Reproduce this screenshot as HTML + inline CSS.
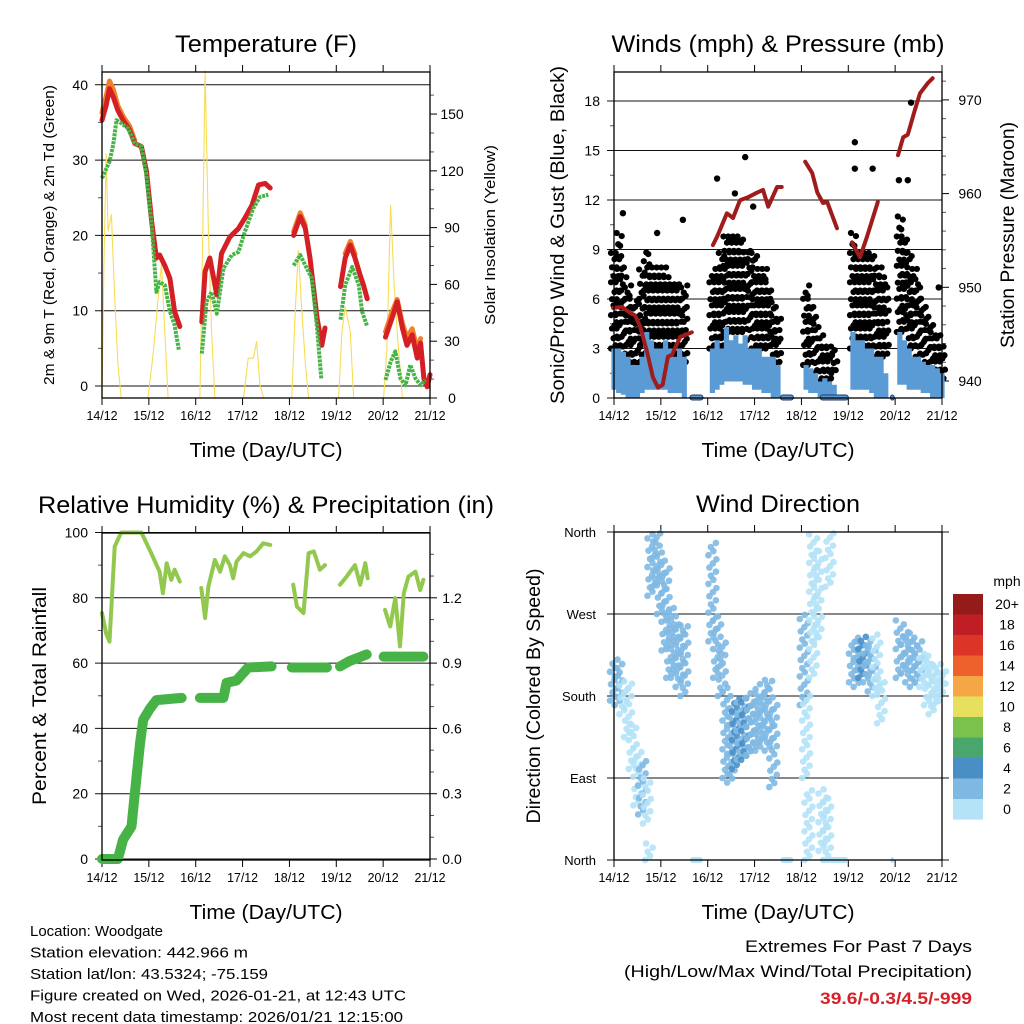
<!DOCTYPE html>
<html><head><meta charset="utf-8"><style>
html,body{margin:0;padding:0;background:#fff}
svg{display:block;font-family:"Liberation Sans",sans-serif}
</style></head><body>
<svg id="c" width="1024" height="1024" viewBox="0 0 1024 1024" xmlns="http://www.w3.org/2000/svg"></svg>
<script>
// ---------- DATA ----------
const dayLabels=["14/12","15/12","16/12","17/12","18/12","19/12","20/12","21/12"];
const tRedT=[0,.09,.16,.24,.34,.45,.59,.7,.84,.95,1.06,1.16,1.23,1.34,1.45,1.55,1.66,null,2.13,2.2,2.3,2.45,2.55,2.73,2.91,3.05,3.2,3.34,3.48,3.59,null,4.09,4.23,4.34,4.44,4.59,4.69,4.76,null,5.09,5.19,5.3,5.4,5.51,5.58,5.66,null,6.05,6.19,6.3,6.41,6.51,6.62,6.73,6.8,6.87,6.94,7];
const tRedV=[35.3,37.3,39.5,38.4,36.6,35.3,34,32.2,31.8,28.5,21.8,17,17.4,16,14.3,9.9,7.9,null,8.5,15.2,17,12.1,17.6,19.8,20.9,22.3,24,26.7,26.9,26.3,null,20,22.5,20.9,17,9,5.4,7.7,null,13.2,17,18.7,17,14.7,13.4,11.6,null,6.5,9,11.2,7.7,5.4,6.8,3.7,5.7,1,-0.1,1.5];
const tOrT=[0,.09,.16,.24,.34,.45,.59,.7,null,4.09,4.23,4.34,null,5.19,5.3,5.4,null,6.05,6.19,6.3,6.41,6.51,6.62,6.73,6.8];
const tOrV=[36.3,38.5,40.5,39.4,37.2,35.8,34.5,32.6,null,20.5,23,21.3,null,17.6,19.2,17.5,null,7.2,9.8,11.5,8.3,6.4,7.6,4.8,6.3];
const tdT=[0,.16,.24,.31,.41,.56,.7,.84,.95,1.06,1.16,1.23,1.34,1.45,1.55,1.64,null,2.13,2.23,2.34,2.45,2.59,2.77,2.91,3.05,3.23,3.37,3.55,null,4.09,4.23,4.34,4.48,4.59,4.68,null,5.09,5.19,5.34,5.48,5.55,5.66,null,6.05,6.16,6.26,6.37,6.48,6.58,6.69,6.8,6.9];
const tdV=[27.6,29.8,32,35.3,34.9,34.2,32.2,31.8,28,21.4,12.5,13.8,13.4,9.9,8.1,4.8,null,4.3,11.2,12.5,9.6,15.6,17.4,17.8,20.5,23.6,25.1,25.4,null,16,17.4,16,14.3,7.7,1,null,8.8,13.4,15.8,13.4,9.9,7.9,null,0.8,3.2,4.6,1,0.1,2.8,1,0.1,0.8];
const solT=[0,.04,.09,.13,.2,.27,.34,.41,null,.98,1.09,1.2,1.27,1.34,1.41,null,2.09,2.14,2.2,2.27,2.34,2.41,null,3.02,3.12,3.23,3.3,3.37,3.45,null,4.05,4.12,4.19,4.27,4.34,4.41,null,5.05,5.12,5.19,5.3,5.37,null,6.01,6.08,6.16,6.23,6.3,6.41];
const solV=[0,70,129,88,97,53,18,0,null,0,23,53,71,35,0,null,0,71,173,88,35,0,null,0,21,21,30,7,0,null,0,44,78,44,18,0,null,0,35,48,35,0,null,0,26,102,62,35,0];
const gustLo=[3,3,2.5,2,2,1.5,2,2.5,2.5,2.5,2.5,2.5,2.5,2.5,2.5,2,null,null,null,null,null,3,3,3,4,4,4,4,4,3.5,3,3,3,3,2,2,null,null,null,null,null,2,2,1.5,1,1,1,1.5,null,null,null,3,3,3,3,3,2.5,2.5,2.5,null,null,4,4,3,3,2.5,2,1.5,1,1,1];
const gustHi=[9,10,8,7,6,6,8,9,8,8,8,8,7,7,7,7,null,null,null,null,null,8,8,9,10,10,10,10,9,9,9,8,8,7,6,5,null,null,null,null,null,7,6,5,4,3.5,3.5,3,null,null,null,10,9,9,9,9,8,8,7,null,null,11,10,9,8,7,6,5,4.5,4,3.5];
const gustOutT=[.19,1.47,2.2,2.8,5.14,6.34,5.14,5.52,6.08,6.27,6.93,.92,2.58,2.97];
const gustOutV=[11.2,10.8,13.3,14.6,15.5,17.9,13.9,13.9,13.2,13.2,6.7,10,12.4,11.6];
const windLo=[.5,.3,.2,0,0,0,.3,.5,.5,.5,.5,.5,.3,.3,.3,0,null,null,null,null,null,.3,.5,.8,1,1,1,1,.8,.8,.5,.5,.3,.3,0,0,null,null,null,null,null,.5,.3,.3,0,0,0,0,null,null,null,.5,.5,.5,.5,.3,0,0,0,null,null,.8,.8,.5,.5,.5,.3,.3,0,0,0];
const windHi=[3,3,2.8,2.5,2,2,2.5,4,3.5,3,3,3.5,3,2.5,3,2.5,null,null,null,null,null,3,3.5,3,4.3,3.5,3.8,3.3,3.8,3,3,3,2.5,2.5,2.5,2,null,null,null,null,null,2,1.8,1.5,1,1.2,1,.8,null,null,null,4,3.5,3.5,3,3,2.5,2.5,1.5,null,null,4,3.5,3,2.5,2.5,2.2,2,2,1.8,1.5];
const calmStart=[1.62,3.55,4.4,5.9];
const calmEnd=[1.9,3.83,5.0,5.98];
const presT=[-0.02,.17,.34,.45,.56,.71,.83,.94,1.04,1.15,1.24,1.41,1.66,null,2.11,2.2,2.41,2.54,2.69,2.86,3.05,3.18,3.29,3.48,3.58,null,4.08,4.23,4.34,4.46,4.55,4.76,null,5.08,5.25,5.4,5.63,null,6.06,6.17,6.27,6.42,6.53,6.7,6.8];
const presV=[947.8,947.9,947.3,947,945.8,943,940.4,939.3,939.6,942.6,942.8,944.7,945.2,null,954.5,955.4,957.9,957.4,959.3,959.6,960.1,960.4,958.6,960.7,960.7,null,963.4,962.2,960.1,959,959.1,956.3,null,954.8,953.2,955.4,959.1,null,964.1,966,966.3,968.9,970.7,971.8,972.3];
const dirT=[0,.1,.2,.3,.4,.5,.6,.7,.75,.8,.9,1,1.1,1.2,1.3,1.4,1.5,2.1,2.2,2.3,2.4,2.5,2.6,2.7,2.8,2.9,3,3.1,3.2,3.3,3.4,4.05,4.1,4.15,4.25,4.35,4.45,4.55,4.6,5.1,5.2,5.3,5.4,5.5,5.6,5.7,6.1,6.2,6.3,6.4,6.5,6.6,6.7,6.8,6.9,7];
const dirLo=[175,170,160,135,100,60,50,40,0,290,300,270,230,200,200,190,180,240,200,180,90,85,100,110,110,115,120,120,130,120,80,170,90,0,200,240,10,0,300,195,190,200,195,185,180,150,200,205,195,190,195,190,170,160,170,180];
const dirHi=[220,215,200,195,150,125,110,90,20,360,360,340,320,280,270,260,260,350,270,240,190,170,180,175,180,180,190,185,200,200,170,270,180,80,360,340,80,70,360,240,245,245,240,235,250,200,265,250,250,245,240,230,225,215,215,210];
const dirSpd=[1,1,0,0,0,0,1,0,0,1,1,1,1,1,1,1,1,1,1,1,1,1,2,1,2,1,1,1,1,1,1,1,0,0,0,0,0,0,0,1,1,2,1,1,0,0,1,1,1,1,1,0,0,0,0,0];
const rhT=[0,.09,.16,.27,.41,.84,1.05,1.23,1.3,1.38,1.48,1.55,1.66,null,2.12,2.2,2.27,2.41,2.52,2.62,2.73,2.8,2.87,3.02,3.16,3.3,3.44,3.59,null,4.08,4.16,4.3,4.41,4.52,4.65,4.76,null,5.08,5.22,5.4,5.51,5.62,5.67,null,6.04,6.15,6.26,6.36,6.44,6.54,6.69,6.79,6.86];
const rhV=[75.3,69,66.6,95.7,100,100,93.7,88,81.4,90.6,85.5,88.6,85,null,83,73.8,83.5,91.6,88,92.7,90,86,91.1,93.7,92.7,94.2,96.7,96.2,null,84,77.3,75.3,93.7,94.2,88.6,90,null,84,86.5,90,84,90.6,86,null,76.3,71.2,79.9,65.1,81.4,86.5,88,82.4,85.5];
const prT=[0,.34,.45,.63,.7,.81,.88,1.02,1.16,1.7,null,2.09,2.59,2.66,2.87,3.12,3.62,null,4.05,4.8,null,5.08,5.29,5.65,null,6.01,6.86];
const prV=[0,0,.089,.15,.30,.53,.64,.69,.73,.74,null,.74,.74,.81,.82,.88,.885,null,.88,.88,null,.885,.91,.94,null,.93,.93];
const tempTicks=[0,10,20,30,40], solTicks=[0,30,60,90,120,150];
const mphTicks=[0,3,6,9,12,15,18], presTicks=[940,950,960,970];
const rhTicks=[0,20,40,60,80,100], prTicks=["0.0","0.3","0.6","0.9","1.2"];
const dirTicks=["North","East","South","West","North"];
const cbLabels=["20+","18","16","14","12","10","8","6","4","2","0"];
const cbColors=["#951b1b","#be1e24","#dc3427","#ef612c","#f5a746","#e6e05e","#7ac24b","#49a76e","#4a8ec6","#7fb9e3","#b4e2f7"];
const spdColors=["#b4e2f7","#7fb9e3","#4a8ec6"];

// ---------- DRAW ----------
const svg=document.getElementById('c');
const NS="http://www.w3.org/2000/svg";
function mk(tag,name,attrs,parent){
  const el=document.createElementNS(NS,tag);
  
  
  for(const k in attrs) el.setAttribute(k,attrs[k]);
  (parent||svg).appendChild(el);
  return el;
}
function txt(name,s,x,y,size,opts){
  opts=opts||{};
  const a={x:x,y:y,'font-size':size,fill:opts.fill||'#000','text-anchor':opts.anchor||'start'};
  if(opts.len){a.textLength=opts.len;a.lengthAdjust='spacingAndGlyphs';}
  if(opts.weight)a['font-weight']=opts.weight;
  if(opts.rot)a.transform='rotate(-90 '+x+' '+y+')';
  const t=mk('text',name,a,opts.parent);
  t.textContent=s;return t;
}
function pathFrom(ts,vs,xf,yf){
  let d='',pen=false;
  for(let i=0;i<ts.length;i++){
    if(ts[i]===null||vs[i]===null){pen=false;continue;}
    d+=(pen?'L':'M')+xf(ts[i]).toFixed(1)+' '+yf(vs[i]).toFixed(1);pen=true;
  }
  return d;
}
function panel(P,name){
  const g=mk('g',name,{});
  const xf=d=>P.x0+d*(P.x1-P.x0)/7;
  for(let i=0;i<8;i++){
    const x=xf(i);
    mk('line','x-tick-top',{x1:x,x2:x,y1:P.y0-7,y2:P.y0,stroke:'#000','stroke-width':1},g);
    mk('line','x-tick-bottom',{x1:x,x2:x,y1:P.y1,y2:P.y1+7,stroke:'#000','stroke-width':1},g);
    txt('x-tick-label',dayLabels[i],x,P.y1+22,13,{anchor:'middle',len:31,parent:g});
  }
  txt('x-axis-title','Time (Day/UTC)',(P.x0+P.x1)/2,P.y1+59,20,{anchor:'middle',len:153,parent:g});
  txt('panel-title',P.title,(P.x0+P.x1)/2,P.y0-20,24,{anchor:'middle',len:P.tlen,parent:g});
  return {g,xf};
}
function frame(P,g){
  mk('rect','plot-frame',{x:P.x0,y:P.y0,width:P.x1-P.x0,height:P.y1-P.y0,fill:'none',stroke:'#000','stroke-width':1.3},g);
}
function leftAxis(P,g,ticks,yf,labels,minor){
  (minor||[]).forEach(v=>mk('line','y-minor-tick',{x1:P.x0-4,x2:P.x0,y1:yf(v),y2:yf(v),stroke:'#555'},g));
  ticks.forEach((v,i)=>{
    const y=yf(v);
    mk('line','grid-line',{x1:P.x0-7,x2:P.x1,y1:y,y2:y,stroke:'#111','stroke-width':1},g);
    txt('y-tick-label',labels?labels[i]:String(v),P.x0-14,y+5,14,{anchor:'end',parent:g});
  });
}
function rightAxis(P,g,ticks,yf,labels,minor,lx){
  (minor||[]).forEach(v=>mk('line','y2-minor-tick',{x1:P.x1,x2:P.x1+4,y1:yf(v),y2:yf(v),stroke:'#555'},g));
  ticks.forEach((v,i)=>{
    const y=yf(+v);
    mk('line','y2-tick',{x1:P.x1,x2:P.x1+7,y1:y,y2:y,stroke:'#000'},g);
    txt('y2-tick-label',labels?labels[i]:String(v),lx,y+5,14,{anchor:'middle',parent:g});
  });
}

// Panel 1 Temperature
const P1={x0:102,x1:430,y0:72,y1:398,title:'Temperature (F)',tlen:182};
{
  const {g,xf}=panel(P1,'temperature-panel');
  const yT=v=>386-v*7.53, yS=v=>398-v*1.893;
  leftAxis(P1,g,tempTicks,yT,null,[5,15,25,35]);
  rightAxis(P1,g,solTicks,yS,null,[10,20,40,50,70,80,100,110,130,140,160],452);
  mk('path','solar-insolation-line',{d:pathFrom(solT,solV,xf,yS),fill:'none',stroke:'#f8dc55','stroke-width':1.1},g);
  mk('path','temp-9m-orange-line',{d:pathFrom(tOrT,tOrV,xf,yT),fill:'none',stroke:'#f0802a','stroke-width':5,'stroke-linejoin':'round','stroke-linecap':'round'},g);
  mk('path','temp-2m-red-line',{d:pathFrom(tRedT,tRedV,xf,yT),fill:'none',stroke:'#d42024','stroke-width':5,'stroke-linejoin':'round','stroke-linecap':'round'},g);
  mk('path','dewpoint-green-line',{d:pathFrom(tdT,tdV,xf,yT),fill:'none',stroke:'#46b446','stroke-width':4,'stroke-dasharray':'3 1','stroke-linejoin':'round'},g);
  frame(P1,g);
  txt('y-axis-title','2m & 9m T (Red, Orange) & 2m Td (Green)',54,235,15,{anchor:'middle',rot:true,len:300,parent:g});
  txt('y2-axis-title','Solar Insolation (Yellow)',495,235,15,{anchor:'middle',rot:true,len:180,parent:g});
}
// Panel 2 Winds
const P2={x0:614,x1:942,y0:72,y1:398,title:'Winds (mph) & Pressure (mb)',tlen:333};
{
  const {g,xf}=panel(P2,'winds-panel');
  const yM=v=>398-v*16.5, yP=v=>381-(v-940)*9.37;
  leftAxis(P2,g,mphTicks,yM,null,[1.5,4.5,7.5,10.5,13.5,16.5]);
  rightAxis(P2,g,presTicks,yP,null,[942,944,946,948,952,954,956,958,962,964,966,968,972],970);
  for(let i=0;i<gustLo.length;i++){
    if(gustLo[i]===null)continue;
    const x=xf(i*0.1);
    let k=0;
    for(let m=gustLo[i];m<=gustHi[i];m+=0.28){
      const off=[-3,1.5,-0.5,3,-2,0.5,2.5][k%7];
      const p=mk('circle','gust-point',{cx:x+off,cy:yM(m)+[0,1.5,-1,2,-1.5][k%5],r:3.1,fill:'#000'},g);
      k++;
    }
  }
  gustOutT.forEach((t,i)=>{
    const p=mk('circle','gust-point',{cx:xf(t),cy:yM(gustOutV[i]),r:3.2,fill:'#000'},g);
  });
  for(let i=0;i<windLo.length;i++){
    if(windLo[i]===null)continue;
    const x=xf(i*0.1);
    const b=mk('line','wind-speed-band',{x1:x,x2:x,y1:yM(windLo[i]),y2:yM(windHi[i]),stroke:'#5b9bd5','stroke-width':5.2},g);
  }
  calmStart.forEach((s,i)=>{
    const r=mk('rect','calm-wind-marker',{x:xf(s),y:395,width:xf(calmEnd[i])-xf(s),height:5,rx:2.5,fill:'#5b9bd5',stroke:'#1f3a5f','stroke-width':1},g);
  });
  mk('path','pressure-line',{d:pathFrom(presT,presV,xf,yP),fill:'none',stroke:'#a01c1c','stroke-width':4,'stroke-linejoin':'round','stroke-linecap':'round'},g);
  frame(P2,g);
  txt('y-axis-title','Sonic/Prop Wind & Gust (Blue, Black)',564,235,19,{anchor:'middle',rot:true,len:338,parent:g});
  txt('y2-axis-title','Station Pressure (Maroon)',1014,235,19,{anchor:'middle',rot:true,len:226,parent:g});
}
// Panel 3 RH & precip
const P3={x0:102,x1:430,y0:533,y1:860,title:'Relative Humidity (%) & Precipitation (in)',tlen:456};
{
  const {g,xf}=panel(P3,'humidity-precip-panel');
  const yR=v=>859-v*3.265, yI=v=>859-v/0.015*3.265;
  leftAxis(P3,g,rhTicks,yR,null,[10,30,50,70,90]);
  rightAxis(P3,g,prTicks,yI,null,[.1,.2,.4,.5,.7,.8,1.0,1.1,1.3,1.4],452);
  mk('path','rh-line',{d:pathFrom(rhT,rhV,xf,yR),fill:'none',stroke:'#92c84e','stroke-width':4,'stroke-linejoin':'round','stroke-linecap':'round'},g);
  mk('path','precip-line',{d:pathFrom(prT,prV,xf,yI),fill:'none',stroke:'#47b347','stroke-width':10,'stroke-linejoin':'round','stroke-linecap':'round'},g);
  frame(P3,g);
  txt('y-axis-title','Percent & Total Rainfall',46,696,19,{anchor:'middle',rot:true,len:218,parent:g});
}
// Panel 4 Wind direction
const P4={x0:614,x1:942,y0:532,y1:860,title:'Wind Direction',tlen:164};
{
  const {g,xf}=panel(P4,'wind-direction-panel');
  const yD=v=>860-v/360*328;
  dirTicks.forEach((s,i)=>{
    const y=yD(360-i*90);
    mk('line','grid-line',{x1:P4.x0-7,x2:P4.x1+7,y1:y,y2:y,stroke:'#111'},g);
    txt('y-tick-label',dirTicks[4-i],P4.x0-18,y+5,13,{anchor:'end',parent:g});
  });
  dirT.forEach((t,i)=>{
    let k=0;
    for(let d=dirLo[i];d<=dirHi[i];d+=4.5){
      const off=[-4,1,-1.5,3.5,-3,0.5,4][k%7];
      const c=mk('circle','direction-point',{cx:xf(t)+off,cy:yD(d),r:3.3,fill:spdColors[dirSpd[i]],'fill-opacity':0.9},g);
      k++;
    }
  });
  calmStart.forEach((s,i)=>{
    const r=mk('rect','calm-direction-marker',{x:xf(s),y:857,width:xf(calmEnd[i])-xf(s),height:6,rx:3,fill:'#b4e2f7'},g);
  });
  frame(P4,g);
  txt('y-axis-title','Direction (Colored By Speed)',540,696,19,{anchor:'middle',rot:true,len:255,parent:g});
  const cb=mk('g','speed-colorbar',{},g);
  txt('colorbar-title','mph',1007,586,14,{anchor:'middle',parent:cb});
  cbColors.forEach((c,i)=>{
    mk('rect','colorbar-swatch',{x:953,y:594+i*20.5,width:30,height:20.6,fill:c},cb);
    txt('colorbar-label',cbLabels[i],1007,609+i*20.5,14,{anchor:'middle',parent:cb});
  });
}
// Footer info
const info=["Location: Woodgate","Station elevation: 442.966 m","Station lat/lon: 43.5324; -75.159","Figure created on Wed, 2026-01-21, at 12:43 UTC","Most recent data timestamp: 2026/01/21 12:15:00"];
const infoW=[133,218,238,376,373];
info.forEach((s,i)=>txt('station-info-line',s,30,936+i*21.5,15,{len:infoW[i]}));
txt('extremes-title','Extremes For Past 7 Days',972,952,17,{anchor:'end',len:227});
txt('extremes-subtitle','(High/Low/Max Wind/Total Precipitation)',972,977,17,{anchor:'end',len:348});
txt('extremes-values','39.6/-0.3/4.5/-999',972,1004,17,{anchor:'end',len:152,fill:'#d42228',weight:'bold'});
</script>
</body></html>
